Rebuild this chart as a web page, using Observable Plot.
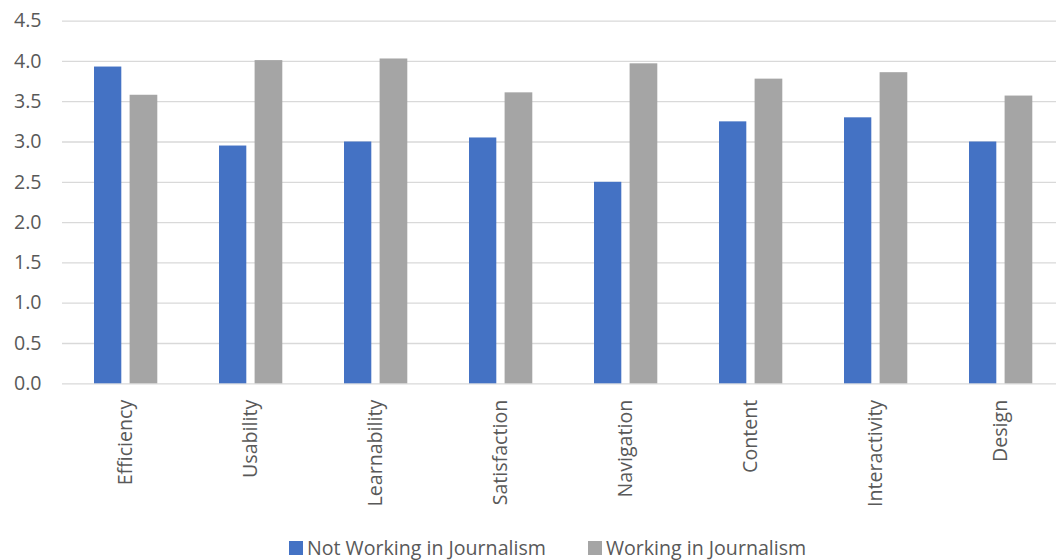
<!DOCTYPE html>
<html>
<head>
<meta charset="utf-8">
<script src="https://cdn.jsdelivr.net/npm/d3@7"></script>
<script src="https://cdn.jsdelivr.net/npm/@observablehq/plot@0.6"></script>
<style>
  html, body { margin: 0; padding: 0; background: #fff; }
  body { width: 1056px; height: 560px; overflow: hidden; font-family: "Open Sans", sans-serif; }
  #chart svg { display: block; }
  #legend { position: relative; height: 35px; box-sizing: border-box; padding-top: 11px; display: flex; align-items: center; padding-left: 289px; color: #595959; font-size: 19.6px; line-height: 22px; }
  .item { display: flex; align-items: center; margin-right: 42px; }
  .sw { width: 14px; height: 14px; margin-right: 4px; }
</style>
</head>
<body>
<div id="chart"></div>
<div id="legend"></div>
<script>
const categories = ["Efficiency", "Usability", "Learnability", "Satisfaction", "Navigation", "Content", "Interactivity", "Design"];
const seriesNames = ["Not Working in Journalism", "Working in Journalism"];
const notWorking = [3.93, 2.95, 3.00, 3.05, 2.50, 3.25, 3.30, 3.00];
const working = [3.58, 4.01, 4.03, 3.61, 3.97, 3.78, 3.86, 3.57];
const colors = ["#4472C4", "#A5A5A5"];
const yTicks = [0, 0.5, 1, 1.5, 2, 2.5, 3, 3.5, 4, 4.5];

const rowsA = categories.map((c, i) => ({category: c, value: notWorking[i]}));
const rowsB = categories.map((c, i) => ({category: c, value: working[i]}));

const chart = Plot.plot({
  width: 1056,
  height: 525,
  marginLeft: 62,
  marginRight: 0,
  marginTop: 20.6,
  marginBottom: 141.7,
  style: {fontFamily: "'Open Sans', sans-serif", fontSize: "19.6px", color: "#595959", background: "#fff"},
  x: {domain: categories, range: [62.4, 1064.6], padding: 0, label: null},
  y: {domain: [0, 4.5], label: null},
  marks: [
    Plot.ruleY(yTicks, {stroke: "#d9d9d9", strokeWidth: 1.3}),
    Plot.barY(rowsA, {x: "category", y: "value", fill: colors[0], insetLeft: 31, insetRight: 66.7}),
    Plot.barY(rowsB, {x: "category", y: "value", fill: colors[1], insetLeft: 66.6, insetRight: 30.7}),
    Plot.axisY({ticks: yTicks, tickFormat: d3.format(".1f"), tickSize: 0, tickPadding: 21, label: null, fill: "#595959"}),
    Plot.axisX({tickRotate: -90, tickSize: 0, tickPadding: 16, label: null, fill: "#595959"})
  ]
});
document.getElementById("chart").appendChild(chart);

const legend = document.getElementById("legend");
seriesNames.forEach((name, i) => {
  const item = document.createElement("div");
  item.className = "item";
  const sw = document.createElement("div");
  sw.className = "sw";
  sw.style.background = colors[i];
  const label = document.createElement("span");
  label.textContent = name;
  item.appendChild(sw);
  item.appendChild(label);
  legend.appendChild(item);
});
</script>
</body>
</html>
